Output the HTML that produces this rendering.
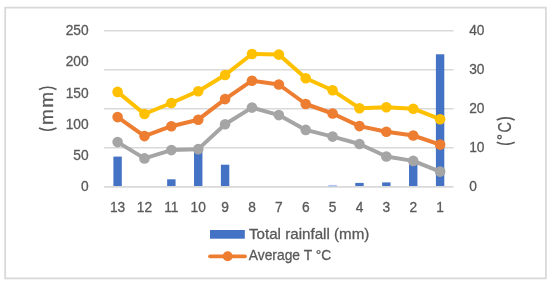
<!DOCTYPE html>
<html><head><meta charset="utf-8"><style>
html,body{margin:0;padding:0;background:#fff;width:550px;height:285px;overflow:hidden}
svg{display:block;will-change:transform}
text{font-family:"Liberation Sans",sans-serif;fill:#595959;stroke:#595959;stroke-width:0.3}
</style></head><body>
<svg width="550" height="285" viewBox="0 0 550 285">
<rect x="0" y="0" width="550" height="285" fill="#fff"/>
<rect x="5.2" y="7.6" width="540.7" height="270.8" fill="none" stroke="#d9d9d9" stroke-width="1.8"/>

<line x1="104.2" x2="453.6" y1="147.82" y2="147.82" stroke="#d9d9d9" stroke-width="1.6"/>
<line x1="104.2" x2="453.6" y1="108.80" y2="108.80" stroke="#d9d9d9" stroke-width="1.6"/>
<line x1="104.2" x2="453.6" y1="69.77" y2="69.77" stroke="#d9d9d9" stroke-width="1.6"/>
<line x1="104.2" x2="453.6" y1="30.75" y2="30.75" stroke="#d9d9d9" stroke-width="1.6"/>
<rect x="113.40" y="156.60" width="8.40" height="30.25" fill="#4472c4"/>
<rect x="167.15" y="179.30" width="8.40" height="7.55" fill="#4472c4"/>
<rect x="194.03" y="151.00" width="8.40" height="35.85" fill="#4472c4"/>
<rect x="220.90" y="164.70" width="8.40" height="22.15" fill="#4472c4"/>
<rect x="355.28" y="182.90" width="8.40" height="3.95" fill="#4472c4"/>
<rect x="382.15" y="182.40" width="8.40" height="4.45" fill="#4472c4"/>
<rect x="409.03" y="163.00" width="8.40" height="23.85" fill="#4472c4"/>
<rect x="435.90" y="54.30" width="8.40" height="132.55" fill="#4472c4"/>
<line x1="104.2" x2="453.6" y1="186.95" y2="186.95" stroke="#d9d9d9" stroke-width="1.7"/>
<rect x="328.40" y="184.9" width="8.40" height="1.8" fill="#aec3ea"/>
<polyline points="117.60,142.10 144.47,158.40 171.35,150.10 198.22,149.15 225.10,124.30 251.97,107.60 278.85,115.10 305.73,129.90 332.60,136.60 359.48,144.00 386.35,156.50 413.23,160.90 440.10,171.60" fill="none" stroke="#a5a5a5" stroke-width="4.0" stroke-linejoin="round" stroke-linecap="round"/><circle cx="117.60" cy="142.10" r="5.3" fill="#a5a5a5"/><circle cx="144.47" cy="158.40" r="5.3" fill="#a5a5a5"/><circle cx="171.35" cy="150.10" r="5.3" fill="#a5a5a5"/><circle cx="198.22" cy="149.15" r="5.3" fill="#a5a5a5"/><circle cx="225.10" cy="124.30" r="5.3" fill="#a5a5a5"/><circle cx="251.97" cy="107.60" r="5.3" fill="#a5a5a5"/><circle cx="278.85" cy="115.10" r="5.3" fill="#a5a5a5"/><circle cx="305.73" cy="129.90" r="5.3" fill="#a5a5a5"/><circle cx="332.60" cy="136.60" r="5.3" fill="#a5a5a5"/><circle cx="359.48" cy="144.00" r="5.3" fill="#a5a5a5"/><circle cx="386.35" cy="156.50" r="5.3" fill="#a5a5a5"/><circle cx="413.23" cy="160.90" r="5.3" fill="#a5a5a5"/><circle cx="440.10" cy="171.60" r="5.3" fill="#a5a5a5"/>
<polyline points="117.60,117.10 144.47,136.10 171.35,126.20 198.22,119.70 225.10,99.10 251.97,80.70 278.85,84.50 305.73,104.00 332.60,113.50 359.48,126.10 386.35,131.70 413.23,135.50 440.10,144.60" fill="none" stroke="#ed7d31" stroke-width="4.0" stroke-linejoin="round" stroke-linecap="round"/><circle cx="117.60" cy="117.10" r="5.3" fill="#ed7d31"/><circle cx="144.47" cy="136.10" r="5.3" fill="#ed7d31"/><circle cx="171.35" cy="126.20" r="5.3" fill="#ed7d31"/><circle cx="198.22" cy="119.70" r="5.3" fill="#ed7d31"/><circle cx="225.10" cy="99.10" r="5.3" fill="#ed7d31"/><circle cx="251.97" cy="80.70" r="5.3" fill="#ed7d31"/><circle cx="278.85" cy="84.50" r="5.3" fill="#ed7d31"/><circle cx="305.73" cy="104.00" r="5.3" fill="#ed7d31"/><circle cx="332.60" cy="113.50" r="5.3" fill="#ed7d31"/><circle cx="359.48" cy="126.10" r="5.3" fill="#ed7d31"/><circle cx="386.35" cy="131.70" r="5.3" fill="#ed7d31"/><circle cx="413.23" cy="135.50" r="5.3" fill="#ed7d31"/><circle cx="440.10" cy="144.60" r="5.3" fill="#ed7d31"/>
<polyline points="117.60,91.90 144.47,114.00 171.35,103.00 198.22,91.20 225.10,75.00 251.97,54.00 278.85,54.60 305.73,78.20 332.60,90.30 359.48,108.20 386.35,107.20 413.23,108.70 440.10,119.20" fill="none" stroke="#ffc000" stroke-width="4.0" stroke-linejoin="round" stroke-linecap="round"/><circle cx="117.60" cy="91.90" r="5.3" fill="#ffc000"/><circle cx="144.47" cy="114.00" r="5.3" fill="#ffc000"/><circle cx="171.35" cy="103.00" r="5.3" fill="#ffc000"/><circle cx="198.22" cy="91.20" r="5.3" fill="#ffc000"/><circle cx="225.10" cy="75.00" r="5.3" fill="#ffc000"/><circle cx="251.97" cy="54.00" r="5.3" fill="#ffc000"/><circle cx="278.85" cy="54.60" r="5.3" fill="#ffc000"/><circle cx="305.73" cy="78.20" r="5.3" fill="#ffc000"/><circle cx="332.60" cy="90.30" r="5.3" fill="#ffc000"/><circle cx="359.48" cy="108.20" r="5.3" fill="#ffc000"/><circle cx="386.35" cy="107.20" r="5.3" fill="#ffc000"/><circle cx="413.23" cy="108.70" r="5.3" fill="#ffc000"/><circle cx="440.10" cy="119.20" r="5.3" fill="#ffc000"/>
<text transform="translate(88.60,191.35) scale(0.95,1)" font-size="14.5" text-anchor="end">0</text>
<text transform="translate(88.60,160.13) scale(0.95,1)" font-size="14.5" text-anchor="end">50</text>
<text transform="translate(88.60,128.91) scale(0.95,1)" font-size="14.5" text-anchor="end">100</text>
<text transform="translate(88.60,97.69) scale(0.95,1)" font-size="14.5" text-anchor="end">150</text>
<text transform="translate(88.60,66.47) scale(0.95,1)" font-size="14.5" text-anchor="end">200</text>
<text transform="translate(88.60,35.25) scale(0.95,1)" font-size="14.5" text-anchor="end">250</text>
<text transform="translate(469.20,191.35) scale(0.95,1)" font-size="14.5" text-anchor="start">0</text>
<text transform="translate(469.20,152.32) scale(0.95,1)" font-size="14.5" text-anchor="start">10</text>
<text transform="translate(469.20,113.30) scale(0.95,1)" font-size="14.5" text-anchor="start">20</text>
<text transform="translate(469.20,74.27) scale(0.95,1)" font-size="14.5" text-anchor="start">30</text>
<text transform="translate(469.20,35.25) scale(0.95,1)" font-size="14.5" text-anchor="start">40</text>
<text transform="translate(117.60,212.00) scale(0.95,1)" font-size="14.5" text-anchor="middle">13</text>
<text transform="translate(144.47,212.00) scale(0.95,1)" font-size="14.5" text-anchor="middle">12</text>
<text transform="translate(171.35,212.00) scale(0.95,1)" font-size="14.5" text-anchor="middle">11</text>
<text transform="translate(198.22,212.00) scale(0.95,1)" font-size="14.5" text-anchor="middle">10</text>
<text transform="translate(225.10,212.00) scale(0.95,1)" font-size="14.5" text-anchor="middle">9</text>
<text transform="translate(251.97,212.00) scale(0.95,1)" font-size="14.5" text-anchor="middle">8</text>
<text transform="translate(278.85,212.00) scale(0.95,1)" font-size="14.5" text-anchor="middle">7</text>
<text transform="translate(305.73,212.00) scale(0.95,1)" font-size="14.5" text-anchor="middle">6</text>
<text transform="translate(332.60,212.00) scale(0.95,1)" font-size="14.5" text-anchor="middle">5</text>
<text transform="translate(359.48,212.00) scale(0.95,1)" font-size="14.5" text-anchor="middle">4</text>
<text transform="translate(386.35,212.00) scale(0.95,1)" font-size="14.5" text-anchor="middle">3</text>
<text transform="translate(413.23,212.00) scale(0.95,1)" font-size="14.5" text-anchor="middle">2</text>
<text transform="translate(440.10,212.00) scale(0.95,1)" font-size="14.5" text-anchor="middle">1</text>
<path d="M39.00 89.50 A19.28 19.28 0 0 1 56.50 89.50" fill="none" stroke="#595959" stroke-width="1.65"/>
<path d="M39.00 128.00 A19.28 19.28 0 0 0 56.50 128.00" fill="none" stroke="#595959" stroke-width="1.65"/>
<text transform="translate(53.0,124.96) rotate(-90)" font-size="19">m</text>
<text transform="translate(53.0,107.76) rotate(-90)" font-size="19">m</text>
<path d="M496.70 119.90 A21.25 21.25 0 0 1 514.70 119.90" fill="none" stroke="#595959" stroke-width="1.65"/>
<path d="M496.70 142.30 A22.27 22.27 0 0 0 514.70 142.30" fill="none" stroke="#595959" stroke-width="1.65"/>
<text transform="translate(510.55,132.4) rotate(-90) scale(0.8,1)" font-size="18">C</text>
<circle cx="499.5" cy="137.1" r="1.75" fill="none" stroke="#595959" stroke-width="1.3"/>
<rect x="210" y="230" width="34.8" height="8.7" fill="#4472c4"/>
<text x="249" y="238.7" font-size="15" textLength="120.3" lengthAdjust="spacingAndGlyphs">Total rainfall (mm)</text>
<line x1="210" x2="245" y1="256.3" y2="256.3" stroke="#ed7d31" stroke-width="3.75" stroke-linecap="round"/>
<circle cx="227.7" cy="256.3" r="5.0" fill="#ed7d31"/>
<text x="248.8" y="259.8" font-size="15" textLength="82.4" lengthAdjust="spacingAndGlyphs">Average T °C</text>
</svg></body></html>
